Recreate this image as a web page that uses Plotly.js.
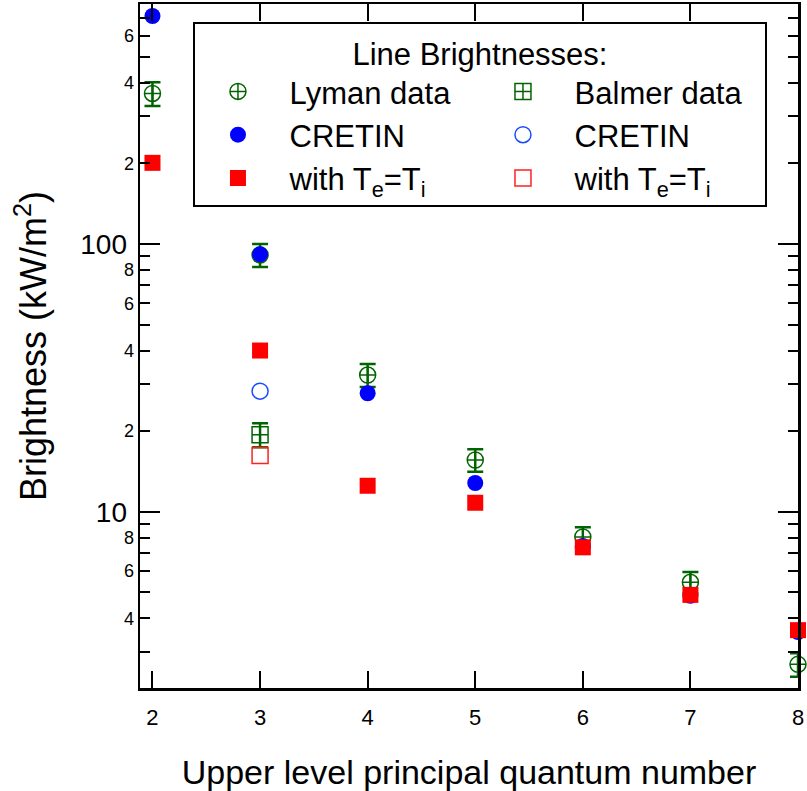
<!DOCTYPE html>
<html>
<head>
<meta charset="utf-8">
<script src="https://cdn.plot.ly/plotly-3.0.1.min.js"></script>
<style>html,body{margin:0;padding:0;background:#fff;}#chart{width:807px;height:791px;}</style>
</head>
<body>
<div id="chart"></div>
<script>
// Upper level principal quantum number
const levels = [2, 3, 4, 5, 6, 7, 8];
// Lyman data (kW/m^2) and error
const lymanY = [365, 91, 32.4, 15.6, 8.05, 5.45, 2.69];
const lymanErr = [37, 9, 3.2, 1.5, 0.7, 0.5, 0.27];
// Balmer data
const balmerX = [3];
const balmerY = [19.4];
const balmerErr = [2.0];
// CRETIN (Lyman, filled)
const cretinLyY = [711, 91.5, 27.7, 12.8, 7.45, 4.85, 3.55];
// CRETIN (Balmer, open)
const cretinBaX = [3];
const cretinBaY = [28.2];
// with Te=Ti (Lyman, filled)
const teTiLyY = [201, 40, 12.5, 10.8, 7.36, 4.89, 3.61];
// with Te=Ti (Balmer, open)
const teTiBaX = [3];
const teTiBaY = [16.2];

// tick labels
const xTickVals = [2, 3, 4, 5, 6, 7, 8];
const xTickText = ['2', '3', '4', '5', '6', '7', '8'];
const yMinorVals = [3, 4, 5, 6, 7, 8, 9, 20, 30, 40, 50, 60, 70, 80, 90, 200, 300, 400, 500, 600, 700];
const yMinorText = ['', '4', '', '6', '', '8', '', '2', '', '4', '', '6', '', '8', '', '2', '', '4', '', '6', ''];
const yMajorVals = [10, 100];
const yMajorText = ['10', '100'];

const green = '#006400';
const font = 'Liberation Sans, Arial, Helvetica, sans-serif';
const pad = '\u00a0';

const traces = [
  {x: levels, y: lymanY, name: pad + 'Lyman data', type: 'scatter', mode: 'markers', cliponaxis: false,
   marker: {symbol: 'circle-cross-open', size: 16, color: green, line: {color: green, width: 1.5}},
   error_y: {type: 'data', array: lymanErr, visible: true, color: green, thickness: 2.5, width: 8}},
  {x: balmerX, y: balmerY, name: pad + 'Balmer data', type: 'scatter', mode: 'markers', cliponaxis: false,
   marker: {symbol: 'square-cross-open', size: 16, color: green, line: {color: green, width: 1.5}},
   error_y: {type: 'data', array: balmerErr, visible: true, color: green, thickness: 2.5, width: 8}},
  {x: levels, y: cretinLyY, name: pad + 'CRETIN', type: 'scatter', mode: 'markers', cliponaxis: false,
   marker: {symbol: 'circle', size: 16, color: '#0000ff'}},
  {x: cretinBaX, y: cretinBaY, name: pad + 'CRETIN', type: 'scatter', mode: 'markers', cliponaxis: false,
   marker: {symbol: 'circle-open', size: 16, color: '#1a4cff', line: {color: '#1a4cff', width: 1.5}}},
  {x: levels, y: teTiLyY, name: pad + 'with T<sub>e</sub>=T<sub>i</sub>', type: 'scatter', mode: 'markers', cliponaxis: false,
   marker: {symbol: 'square', size: 16, color: '#ff0000'}},
  {x: teTiBaX, y: teTiBaY, name: pad + 'with T<sub>e</sub>=T<sub>i</sub>', type: 'scatter', mode: 'markers', cliponaxis: false,
   marker: {symbol: 'square-open', size: 16, color: '#ff2020', line: {color: '#ff2020', width: 1.5}}},
  // carrier for the major-tick axis (draws nothing visible)
  {x: levels, y: lymanY, yaxis: 'y2', type: 'scatter', mode: 'markers', showlegend: false, hoverinfo: 'skip',
   marker: {opacity: 0, size: 1}}
];

const yRange = [0.3414, 2.8966];

const layout = {
  width: 807, height: 791,
  margin: {l: 140, r: 9, t: 4, b: 103},
  paper_bgcolor: '#fff', plot_bgcolor: '#fff',
  font: {family: font, color: '#000'},
  showlegend: true,
  legend: {
    orientation: 'h', x: 0.0805, y: 0.973, xanchor: 'left', yanchor: 'top',
    bgcolor: '#fff', bordercolor: '#000', borderwidth: 2,
    font: {family: font, size: 31, color: '#000'},
    title: {text: 'Line Brightnesses:', side: 'top center', font: {family: font, size: 31, color: '#000'}},
    entrywidth: 194, entrywidthmode: 'pixels', itemwidth: 76, itemsizing: 'trace'
  },
  xaxis: {
    range: [1.884, 8.0], tickmode: 'array', tickvals: xTickVals, ticktext: xTickText,
    ticks: 'inside', ticklen: 17, tickwidth: 2, tickcolor: '#000',
    showline: true, linecolor: '#000', linewidth: 2.5, mirror: 'ticks',
    showgrid: false, zeroline: false, ticklabelstandoff: 8,
    tickfont: {family: font, size: 22, color: '#000'},
    title: {text: 'Upper level principal quantum number', font: {family: font, size: 34, color: '#000'}}
  },
  yaxis: {
    type: 'log', range: yRange, tickmode: 'array', tickvals: yMinorVals, ticktext: yMinorText,
    ticks: 'inside', ticklen: 10, tickwidth: 2, tickcolor: '#000',
    showline: true, linecolor: '#000', linewidth: 2.5, mirror: 'ticks',
    showgrid: false, zeroline: false,
    tickfont: {family: font, size: 18, color: '#000'}
  },
  yaxis2: {
    type: 'log', range: yRange, overlaying: 'y', anchor: 'x', side: 'left',
    tickmode: 'array', tickvals: yMajorVals, ticktext: yMajorText,
    ticks: 'inside', ticklen: 20, tickwidth: 2, tickcolor: '#000',
    showline: false, mirror: 'ticks', showgrid: false, zeroline: false,
    ticklabelstandoff: 12, automargin: true,
    tickfont: {family: font, size: 28, color: '#000'},
    title: {text: 'Brightness (kW/m<sup>2</sup>)', standoff: 22, font: {family: font, size: 36, color: '#000'}}
  }
};

Plotly.newPlot('chart', traces, layout, {displayModeBar: false, staticPlot: true});
</script>
</body>
</html>
